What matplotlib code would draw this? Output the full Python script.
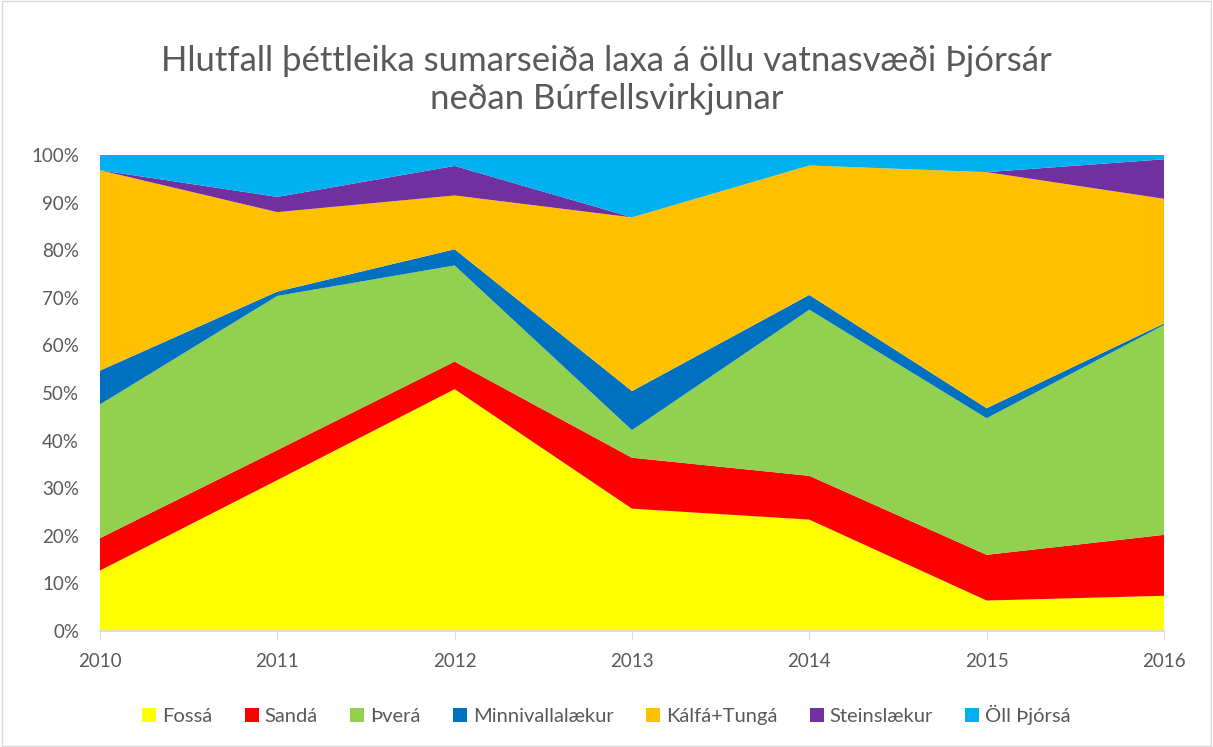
import numpy as np
import matplotlib.pyplot as plt
from matplotlib.patches import Patch, Rectangle

years = [2010, 2011, 2012, 2013, 2014, 2015, 2016]
names = ['Fossá', 'Sandá', 'Þverá', 'Minnivallalækur', 'Kálfá+Tungá', 'Steinslækur', 'Öll Þjórsá']
colors = ['#FFFF00', '#FF0000', '#92D050', '#0070C0', '#FFC000', '#7030A0', '#00B0F0']

# hlutfall (%) per ár
fossa = [12.7, 31.7, 50.8, 25.7, 23.4, 6.4, 7.4]
sanda = [6.8, 6.3, 5.8, 10.7, 9.2, 9.6, 12.8]
thvera = [28.1, 32.4, 20.2, 5.8, 34.9, 28.7, 44.1]
minnivalla = [7.1, 0.9, 3.4, 8.2, 3.1, 2.1, 0.3]
kalfa = [42.1, 16.7, 11.3, 36.5, 27.2, 49.6, 26.2]
steins = [0.0, 3.2, 6.2, 0.0, 0.0, 0.0, 8.3]
oll = [3.2, 8.8, 2.3, 13.1, 2.2, 3.6, 0.9]

data = np.array([fossa, sanda, thvera, minnivalla, kalfa, steins, oll])
data = data / data.sum(axis=0) * 100

plt.rcParams['font.family'] = ['Lato', 'DejaVu Sans']
grey = '#595959'

fig = plt.figure(figsize=(12.13, 7.47), dpi=100)
ax = fig.add_axes([0.0824, 0.1553, 0.8772, 0.6372])
ax.stackplot(years, data, colors=colors, linewidth=0)

ax.set_xlim(2010, 2016)
ax.set_ylim(0, 100)
ax.set_yticks(np.arange(0, 101, 10))
ax.set_yticklabels([f'{v}%' for v in range(0, 101, 10)])
ax.set_xticks(years)
for s in ['top', 'right', 'left']:
    ax.spines[s].set_visible(False)
ax.spines['bottom'].set_color('#D9D9D9')
ax.spines['bottom'].set_linewidth(1.2)
ax.tick_params(axis='y', length=0, labelsize=13.5, labelcolor=grey, pad=15)
ax.tick_params(axis='x', length=6, color='#D9D9D9', labelsize=13.5, labelcolor=grey, pad=10)

fig.text(0.5, 0.893, 'Hlutfall þéttleika sumarseiða laxa á öllu vatnasvæði Þjórsár\nneðan Búrfellsvirkjunar',
         ha='center', va='center', fontsize=25, color=grey, linespacing=1.25)

handles = [Patch(facecolor=c, label=n) for c, n in zip(colors, names)]
fig.legend(handles=handles, loc='center', bbox_to_anchor=(0.5, 0.043), ncol=7, frameon=False,
           fontsize=14.5, labelcolor=grey, handlelength=0.7, handleheight=0.7,
           handletextpad=0.3, columnspacing=1.6)

fig.patches.append(Rectangle((0.002, 0.002), 0.996, 0.996, transform=fig.transFigure,
                             fill=False, edgecolor='#D9D9D9', linewidth=1))

fig.savefig('out.png', dpi=100)
